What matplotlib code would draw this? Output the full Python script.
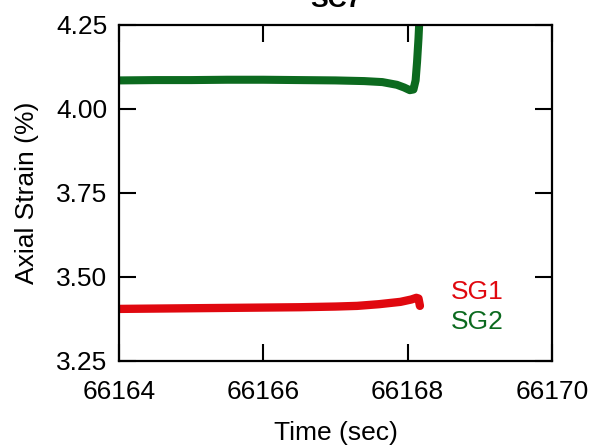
import matplotlib
matplotlib.use("Agg")
import matplotlib.pyplot as plt

plt.rcParams['font.family'] = ['Liberation Sans', 'DejaVu Sans']

# strain gauge readings near the end of the SC7 test
t_sg1 = [66164.0, 66164.5, 66165.0, 66165.5, 66166.0, 66166.5, 66167.0,
         66167.3, 66167.6, 66167.9, 66168.05, 66168.12, 66168.15, 66168.17]
sg1 = [3.405, 3.406, 3.407, 3.408, 3.409, 3.410, 3.412,
       3.414, 3.419, 3.426, 3.433, 3.438, 3.436, 3.414]

t_sg2 = [66164.0, 66164.5, 66165.0, 66165.5, 66166.0, 66166.5, 66167.0,
         66167.4, 66167.65, 66167.85, 66167.95, 66168.03, 66168.08, 66168.11,
         66168.13, 66168.15, 66168.17]
sg2 = [4.085, 4.086, 4.086, 4.087, 4.087, 4.086, 4.085,
       4.083, 4.080, 4.072, 4.064, 4.056, 4.058, 4.085,
       4.140, 4.210, 4.300]

yticks = [3.25, 3.50, 3.75, 4.00, 4.25]
xticks = [66164, 66166, 66168, 66170]

red = '#e0080f'
green = '#0c6a1f'

fig = plt.figure(figsize=(5.9, 4.46), dpi=100)
ax = fig.add_axes([0.2017, 0.1906, 0.7339, 0.7534])

ax.plot(t_sg1, sg1, color=red, lw=6, solid_capstyle='round', solid_joinstyle='round')
ax.plot(t_sg2, sg2, color=green, lw=5.8, solid_capstyle='round', solid_joinstyle='round')

ax.set_xlim(66164, 66170)
ax.set_ylim(3.25, 4.25)
ax.set_xticks(xticks)
ax.set_xticklabels([str(x) for x in xticks])
ax.set_yticks(yticks)
ax.set_yticklabels([f"{y:.2f}" for y in yticks])

for s in ax.spines.values():
    s.set_linewidth(1.6)
ax.tick_params(direction='in', length=12.5, width=1.5, top=True, right=True,
               labelsize=19)
ax.tick_params(axis='x', pad=14)
ax.tick_params(axis='y', pad=8.5)

ax.set_xlabel("Time (sec)", fontsize=19, labelpad=12)
ax.set_ylabel("Axial Strain (%)", fontsize=19, labelpad=12)
ax.set_title("SC7", fontsize=19, fontweight='bold', pad=13)

ax.text(66168.6, 3.455, "SG1", color=red, fontsize=19, va='center')
ax.text(66168.6, 3.365, "SG2", color=green, fontsize=19, va='center')

fig.savefig("out.png", dpi=100)
